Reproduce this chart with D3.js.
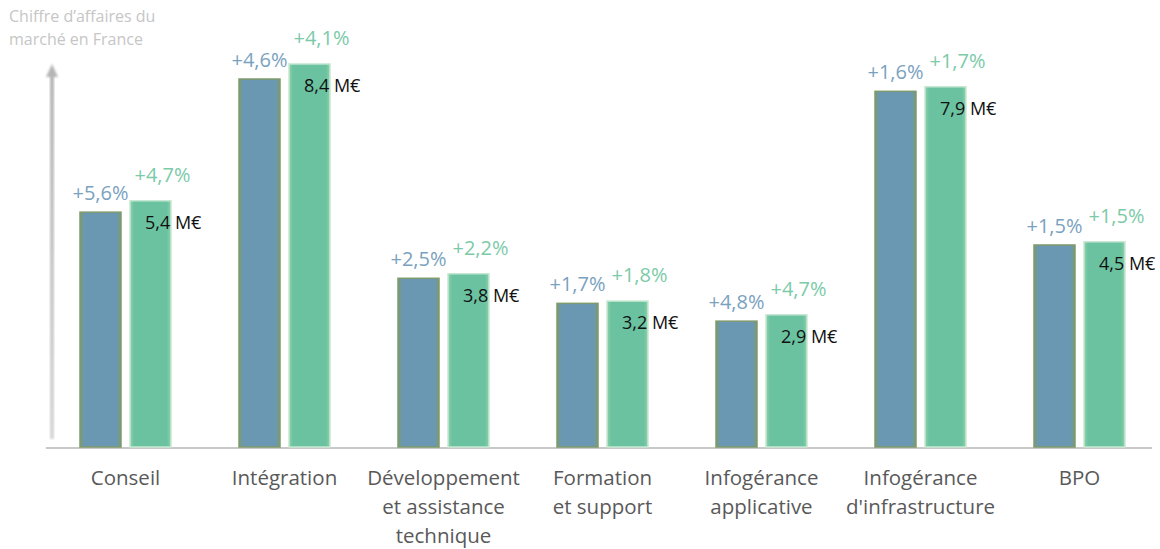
<!DOCTYPE html>
<html>
<head>
<meta charset="utf-8">
<script src="https://cdn.jsdelivr.net/npm/d3@7"></script>
<style>
    body { margin: 0; background: #fff; }
    svg text { font-family: "Open Sans", "Noto Sans", sans-serif; }
</style>
</head>
<body>
<svg id="chart" width="1160" height="549"></svg>
<script>
/*global d3*/
"use strict";

// categories (line breaks as in the original labels)
var categories = [
    ['Conseil'],
    ['Intégration'],
    ['Développement', 'et assistance', 'technique'],
    ['Formation', 'et support'],
    ['Infogérance', 'applicative'],
    ['Infogérance', "d'infrastructure"],
    ['BPO']
];

// previous year (blue) and current year (green), in M€
var previousValues = [5.15, 8.07, 3.7, 3.15, 2.76, 7.8, 4.43];
var currentValues = [5.4, 8.4, 3.8, 3.2, 2.9, 7.9, 4.5];

var previousGrowth = ['+5,6%', '+4,6%', '+2,5%', '+1,7%', '+4,8%', '+1,6%', '+1,5%'];
var currentGrowth = ['+4,7%', '+4,1%', '+2,2%', '+1,8%', '+4,7%', '+1,7%', '+1,5%'];
var valueLabels = ['5,4 M€', '8,4 M€', '3,8 M€', '3,2 M€', '2,9 M€', '7,9 M€', '4,5 M€'];

var axisTitle = ['Chiffre d’affaires du', 'marché en France'];

var svg = d3.select('#chart'),
    baseline = 447,
    barWidth = 41,
    barGap = 9,
    defs = svg.append('defs');

var x = d3.scaleBand()
    .domain(d3.range(categories.length))
    .range([46, 1159]);

var y = d3.scaleLinear()
    .domain([0, 9])
    .range([baseline, baseline - 9 * 45.6]);

/**
 * horizontal gradient: flat centre colour with a soft rim on both sides
 */
function rimGradient(id, centre, rim) {
    var g = defs.append('linearGradient')
        .attr('id', id)
        .attr('x1', 0).attr('x2', 1).attr('y1', 0).attr('y2', 0);
    [[0, rim], [0.1, centre], [0.9, centre], [1, rim]].forEach(function (s) {
        g.append('stop').attr('offset', s[0]).attr('stop-color', s[1]);
    });
}
rimGradient('gradBlue', '#6a98b2', '#7c9a70');
rimGradient('gradGreen', '#6bc2a1', '#8ed2aa');

defs.append('filter')
    .attr('id', 'soft')
    .append('feGaussianBlur')
    .attr('stdDeviation', 0.8);

var arrowGrad = defs.append('linearGradient')
    .attr('id', 'gradArrow')
    .attr('x1', 0).attr('y1', 1).attr('x2', 0).attr('y2', 0);
arrowGrad.append('stop').attr('offset', '0%').attr('stop-color', '#d6d6d6');
arrowGrad.append('stop').attr('offset', '100%').attr('stop-color', '#b6b6b6');

// axis title
svg.append('text')
    .attr('fill', '#c6c6c6')
    .style('font-size', '16px')
    .selectAll('tspan')
    .data(axisTitle)
    .join('tspan')
    .attr('x', 9)
    .attr('y', function (d, i) { return 22 + i * 23; })
    .text(function (d) { return d; });

// vertical arrow
svg.append('rect')
    .attr('x', 50).attr('y', 74)
    .attr('width', 4).attr('height', baseline - 8 - 74)
    .attr('fill', 'url(#gradArrow)')
    .attr('filter', 'url(#soft)');
svg.append('path')
    .attr('d', 'M52 64 L58 77 L46 77 Z')
    .attr('fill', '#b6b6b6')
    .attr('filter', 'url(#soft)');

// baseline
svg.append('line')
    .attr('x1', 46).attr('x2', 1152)
    .attr('y1', baseline + 1).attr('y2', baseline + 1)
    .attr('stroke', '#c8c8c8')
    .attr('stroke-width', 2);

var groups = svg.selectAll('g.cat')
    .data(categories)
    .join('g')
    .attr('class', 'cat')
    .attr('transform', function (d, i) {
        return 'translate(' + (x(i) + x.bandwidth() / 2) + ',0)';
    });

var bar1X = -barWidth - barGap / 2,
    bar2X = barGap / 2;

groups.append('rect')
    .attr('x', bar1X)
    .attr('y', function (d, i) { return y(previousValues[i]); })
    .attr('width', barWidth)
    .attr('height', function (d, i) { return baseline - y(previousValues[i]); })
    .attr('fill', 'url(#gradBlue)')
    .attr('stroke', '#7f9a6c')
    .attr('stroke-width', 1.5);

groups.append('rect')
    .attr('x', bar2X)
    .attr('y', function (d, i) { return y(currentValues[i]); })
    .attr('width', barWidth)
    .attr('height', function (d, i) { return baseline - y(currentValues[i]); })
    .attr('fill', 'url(#gradGreen)')
    .attr('stroke', '#c6e8d2')
    .attr('stroke-width', 1.5);

groups.append('text')
    .attr('x', bar1X + barWidth / 2)
    .attr('y', function (d, i) { return y(previousValues[i]) - 12; })
    .attr('text-anchor', 'middle')
    .attr('fill', '#7aa2c0')
    .style('font-size', '20px')
    .text(function (d, i) { return previousGrowth[i]; });

// green labels sit a little to the right of their bar
groups.append('text')
    .attr('x', bar2X + barWidth / 2 + 12)
    .attr('y', function (d, i) { return y(currentValues[i]) - 19; })
    .attr('text-anchor', 'middle')
    .attr('fill', '#7ccaa8')
    .style('font-size', '20px')
    .text(function (d, i) { return currentGrowth[i]; });

groups.append('text')
    .attr('x', bar2X + 15)
    .attr('y', function (d, i) { return y(currentValues[i]) + 28; })
    .attr('fill', '#111')
    .style('font-size', '18px')
    .text(function (d, i) { return valueLabels[i]; });

// category labels
groups.append('text')
    .attr('text-anchor', 'middle')
    .attr('fill', '#595959')
    .style('font-size', '20.5px')
    .selectAll('tspan')
    .data(function (d) { return d; })
    .join('tspan')
    .attr('x', 0)
    .attr('y', function (d, i) { return 485 + i * 29; })
    .text(function (d) { return d; });
</script>
</body>
</html>
